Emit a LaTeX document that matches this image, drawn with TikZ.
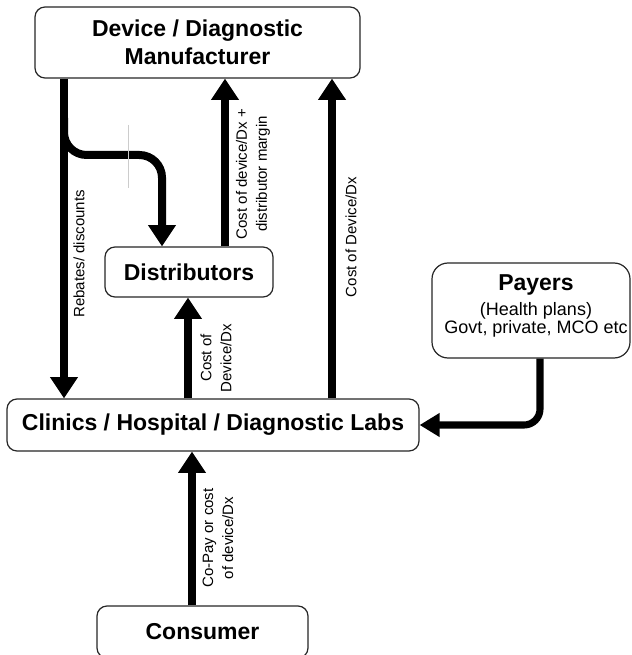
\documentclass[tikz,border=0pt]{standalone}
\usepackage{fontspec}
\setmainfont{Liberation Sans}
\usetikzlibrary{arrows.meta}
\newcommand\pxu{0.75pt}
\begin{document}
\begin{tikzpicture}[x=0.75pt,y=-0.75pt,
  box/.style={draw=black!85,line width=0.9pt,rounded corners=7.5pt,fill=white,inner sep=0pt,align=center,font=\fontsize{17.25}{21}\selectfont\bfseries},
  flow/.style={line width=6pt,-{Triangle[width=20pt,length=16pt]}},
  thinflow/.style={line width=5.3pt,-{Triangle[width=17pt,length=15pt]}},
  lbl/.style={rotate=90,align=center,font=\fontsize{11.25}{15}\selectfont,inner sep=0pt}]
\useasboundingbox (0,0) rectangle (631,655);
\clip (0,0) rectangle (631,655);
% nodes
\node[box,minimum width=325*\pxu,minimum height=71*\pxu] (man) at (197.5,42.5) {Device / Diagnostic\\Manufacturer};
\node[box,minimum width=168*\pxu,minimum height=50*\pxu] (dist) at (189,272) {Distributors};
\node[box,minimum width=412*\pxu,minimum height=52*\pxu] (clin) at (213,425) {Clinics / Hospital / Diagnostic Labs};
\node[box,rounded corners=12pt,minimum width=198*\pxu,minimum height=95*\pxu] (pay) at (531,310.5) {};
\node[align=center,inner sep=0pt] (paytext) at (536,306) {{\fontsize{17.25}{21}\selectfont\bfseries Payers}\\[4pt]{\fontsize{13.5}{15}\selectfont (Health plans)}\\{\fontsize{13.5}{15}\selectfont Govt, private, MCO etc}};
\node[box,minimum width=211*\pxu,minimum height=52*\pxu] (cons) at (202.5,632) {Consumer};
% x positions of connectors
\coordinate (xr) at (64,0);
\coordinate (xb) at (162,0);
\coordinate (xd) at (225,0);
\coordinate (xm) at (332,0);
\coordinate (xc) at (188,0);
\coordinate (xk) at (192,0);
\coordinate (xp) at (540,0);
% connectors
\draw[flow] (man.south -| xr) -- (clin.north -| xr);
\draw[flow,rounded corners=17pt] (64,118) -- (64,155) -- (162,155) -- (dist.north -| xb);
\draw[black!20,line width=0.6pt] (128,125) -- (128,188);
\draw[flow] (dist.north -| xd) -- (man.south -| xd);
\draw[flow] (clin.north -| xm) -- (man.south -| xm);
\draw[flow] (clin.north -| xc) -- (dist.south -| xc);
\draw[flow] (cons.north -| xk) -- (clin.south -| xk);
\draw[thinflow,rounded corners=12pt] (pay.south -| xp) |- (clin.east);
% labels
\node[lbl] (l1) at (79,254) {Rebates/ discounts};
\node[lbl] (l2) at (253,174) {Cost of device/Dx +\\distributor margin};
\node[lbl] (l3) at (351,237) {Cost of Device/Dx};
\node[lbl] (l4) at (216,358) {Cost of\\Device/Dx};
\node[lbl] (l5) at (218,538) {Co-Pay or cost\\of device/Dx};
\end{tikzpicture}
\end{document}
